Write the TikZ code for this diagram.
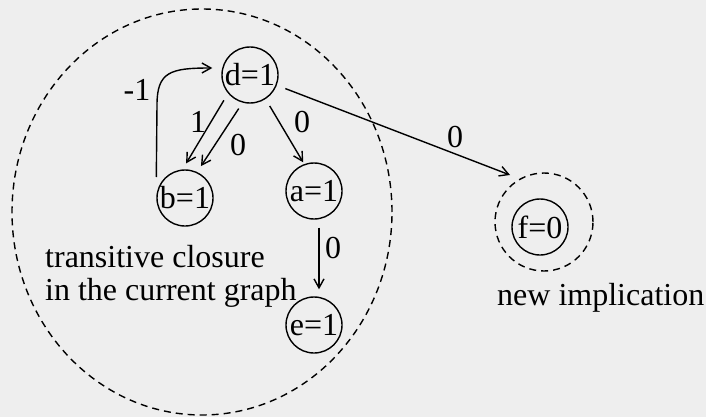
\documentclass[tikz,border=0pt]{standalone}
\usepackage{fontspec}
\setmainfont{Liberation Serif}
\usetikzlibrary{arrows.meta,calc}
\definecolor{paper}{RGB}{238,238,238}
\begin{document}
\begin{tikzpicture}[x=1pt,y=-1pt,
  every node/.style={font=\fontsize{32}{34}\selectfont},
  vnode/.style={draw,circle,line width=1.4pt,minimum size=56pt,inner sep=0pt},
  arr/.style={line width=1.4pt,-{Straight Barb[length=9pt,width=10pt,line width=1.4pt]}},
  dashline/.style={line width=1.4pt,dash pattern=on 7pt off 5pt},
  lbl/.style={inner sep=0pt}]
\fill[paper] (0,0) rectangle (706,417);
\useasboundingbox (0,0) rectangle (706,417);
% regions
\draw[dashline] (202,212) ellipse [x radius=190pt, y radius=203pt];
\draw[dashline] (544,222) circle [radius=49pt];
% nodes
\node[vnode] (d) at (250,75) {d=1};
\node[vnode] (b) at (185,198) {b=1};
\node[vnode] (a) at (314,191) {a=1};
\node[vnode] (e) at (314,325) {e=1};
\node[vnode] (f) at (540,227) {f=0};
\coordinate (ftip) at (510,175);
\coordinate (btop) at ([yshift=21pt]b.west);
\coordinate (dleft) at ([xshift=-9pt,yshift=7pt]d.west);
% edges
\draw[arr] (btop) -- (157,105) .. controls (157,72) and (170,68) .. (dleft);
\draw[arr,shorten <=8pt,shorten >=7pt] (d.220) -- (b.95);
\draw[arr,shorten <=7pt,shorten >=7pt] (d.255) -- (b.65);
\draw[arr,shorten <=8pt,shorten >=2pt] (d.-57) -- (a.110);
\draw[arr,shorten <=8pt,shorten >=7pt] ([xshift=5pt]a.south) -- ([xshift=5pt]e.north);
\draw[arr,shorten <=10pt] (d) ++(26,10) coordinate (dstart) (dstart) -- (ftip);
% labels
\node[lbl] (l1) at (137,90) {-1};
\node[lbl] (l2) at (198,122) {1};
\node[lbl] (l3) at (238,145) {0};
\node[lbl] (l4) at (302,122) {0};
\node[lbl] (l5) at (333,248) {0};
\node[lbl] (l6) at (455,137) {0};
\node[lbl,anchor=base west] (t1) at (45,267) {transitive closure};
\node[lbl,anchor=base west] (t2) at (45,300) {in the current graph};
\node[lbl,anchor=base west] (t3) at (497,305) {new implication};
\end{tikzpicture}
\end{document}
